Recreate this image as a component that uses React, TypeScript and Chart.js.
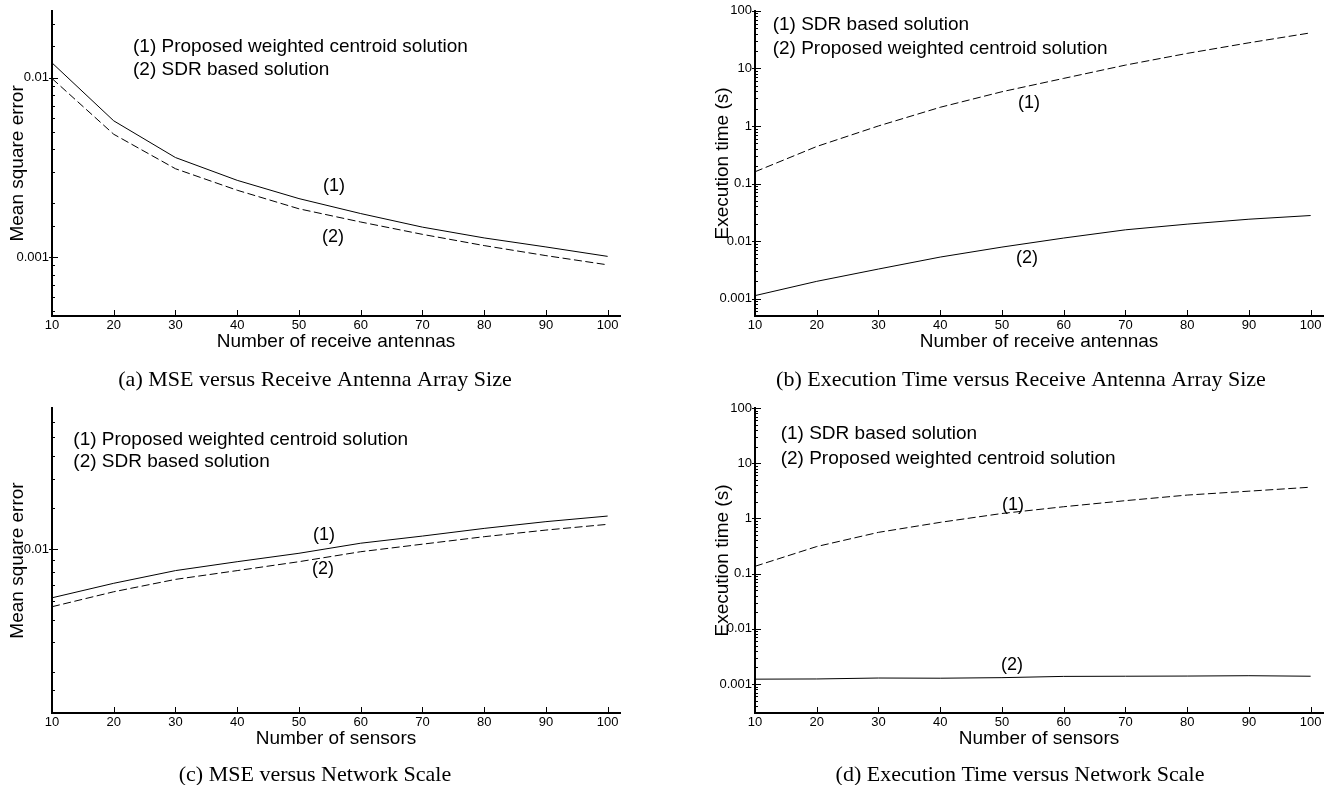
import React, { useEffect, useRef } from "react";
import { Chart, registerables } from "chart.js";

Chart.register(...registerables);

// ---------------- data ----------------
const receiveAntennas = [10, 20, 30, 40, 50, 60, 70, 80, 90, 100];
const sensorCounts = [10, 20, 30, 40, 50, 60, 70, 80, 90, 100];
const xTickValues = [10, 20, 30, 40, 50, 60, 70, 80, 90, 100];

// (a) MSE vs receive antennas
const mseAntennasProposed = [0.0121, 0.00575, 0.00359, 0.00268, 0.00212, 0.00175, 0.00147, 0.00128, 0.00114, 0.00101];
const mseAntennasSDR = [0.0099, 0.00484, 0.00311, 0.00236, 0.00186, 0.00157, 0.00134, 0.00116, 0.00102, 0.000906];

// (b) execution time vs receive antennas
const timeAntennasSDR = [0.16, 0.44, 1.0, 2.11, 3.93, 6.7, 11.4, 18.2, 27.8, 41.4];
const timeAntennasProposed = [0.00113, 0.002, 0.00327, 0.00528, 0.00787, 0.0113, 0.0157, 0.0197, 0.024, 0.0278];

// (c) MSE vs sensors
const mseSensorsProposed = [0.0062, 0.00715, 0.0081, 0.00884, 0.0096, 0.0106, 0.01137, 0.01226, 0.0131, 0.01384];
const mseSensorsSDR = [0.00568, 0.00658, 0.00743, 0.0081, 0.00884, 0.00975, 0.0105, 0.0113, 0.01206, 0.01276];

// (d) execution time vs sensors
const timeSensorsSDR = [0.136, 0.31, 0.56, 0.85, 1.23, 1.63, 2.1, 2.65, 3.12, 3.68];
const timeSensorsProposed = [0.00123, 0.00124, 0.00129, 0.00128, 0.00131, 0.00138, 0.00139, 0.0014, 0.00142, 0.00139];

// tick values
const mseAntennasMajorTicks = [0.001, 0.01];
const mseAntennasMinorTicks = [0.0005, 0.0006, 0.0007, 0.0008, 0.0009, 0.0015, 0.002, 0.003, 0.004, 0.005, 0.006, 0.007, 0.008, 0.009, 0.015, 0.02];
const mseSensorsMajorTicks = [0.01];
const mseSensorsMinorTicks = [0.0025, 0.003, 0.004, 0.005, 0.006, 0.007, 0.008, 0.009, 0.015, 0.02, 0.025, 0.03, 0.035];
const timeMajorTicks = [0.001, 0.01, 0.1, 1, 10, 100];
const timeDecades = [0.0001, 0.001, 0.01, 0.1, 1, 10];
const minorMultipliers = [2, 3, 4, 5, 6, 7, 8, 9];
const timeMinorTicks = timeDecades.flatMap((d) => minorMultipliers.map((k) => k * d));

// ---------------- layout ----------------
const SANS = '"Liberation Sans", Arial, sans-serif';
const SERIF = '"Liberation Serif", "Times New Roman", serif';

interface Note { text: string; x: number; y: number }
interface PanelSpec {
  id: string;
  left: number; top: number; width: number; height: number;
  area: { left: number; top: number; right: number; bottom: number };
  xValues: number[];
  series: { values: number[]; dashed: boolean }[];
  yMin: number; yMax: number;
  yMajor: number[]; yMinor: number[];
  xTitle: string; yTitle: string; yTitleX: number;
  legend: string[]; legendX: number; legendY: number[];
  notes: Note[];
  caption: string; captionX: number; captionY: number;
}

const panels: PanelSpec[] = [
  {
    id: "a", left: 0, top: 0, width: 660, height: 392,
    area: { left: 52, top: 10, right: 620, bottom: 316 },
    xValues: receiveAntennas,
    series: [
      { values: mseAntennasProposed, dashed: false },
      { values: mseAntennasSDR, dashed: true },
    ],
    yMin: 0.00047, yMax: 0.0236,
    yMajor: mseAntennasMajorTicks, yMinor: mseAntennasMinorTicks,
    xTitle: "Number of receive antennas", yTitle: "Mean square error", yTitleX: 18,
    legend: ["(1) Proposed weighted centroid solution", "(2) SDR based solution"],
    legendX: 133, legendY: [46.7, 70],
    notes: [{ text: "(1)", x: 334, y: 186 }, { text: "(2)", x: 333, y: 237 }],
    caption: "(a) MSE versus Receive Antenna Array Size", captionX: 315, captionY: 386,
  },
  {
    id: "b", left: 660, top: 0, width: 673, height: 392,
    area: { left: 95, top: 10, right: 663, bottom: 316 },
    xValues: receiveAntennas,
    series: [
      { values: timeAntennasSDR, dashed: true },
      { values: timeAntennasProposed, dashed: false },
    ],
    yMin: 0.0005, yMax: 100,
    yMajor: timeMajorTicks, yMinor: timeMinorTicks,
    xTitle: "Number of receive antennas", yTitle: "Execution time (s)", yTitleX: 722.5,
    legend: ["(1) SDR based solution", "(2) Proposed weighted centroid solution"],
    legendX: 772.7, legendY: [25, 48.3],
    notes: [{ text: "(1)", x: 1029, y: 103 }, { text: "(2)", x: 1027, y: 258 }],
    caption: "(b) Execution Time versus Receive Antenna Array Size", captionX: 1021, captionY: 386,
  },
  {
    id: "c", left: 0, top: 392, width: 660, height: 393,
    area: { left: 52, top: 16, right: 620, bottom: 321 },
    xValues: sensorCounts,
    series: [
      { values: mseSensorsProposed, dashed: false },
      { values: mseSensorsSDR, dashed: true },
    ],
    yMin: 0.002, yMax: 0.04,
    yMajor: mseSensorsMajorTicks, yMinor: mseSensorsMinorTicks,
    xTitle: "Number of sensors", yTitle: "Mean square error", yTitleX: 18,
    legend: ["(1) Proposed weighted centroid solution", "(2) SDR based solution"],
    legendX: 73.3, legendY: [440, 461.7],
    notes: [{ text: "(1)", x: 324, y: 535 }, { text: "(2)", x: 323, y: 569 }],
    caption: "(c) MSE versus Network Scale", captionX: 315, captionY: 781,
  },
  {
    id: "d", left: 660, top: 392, width: 673, height: 393,
    area: { left: 95, top: 16, right: 663, bottom: 321 },
    xValues: sensorCounts,
    series: [
      { values: timeSensorsSDR, dashed: true },
      { values: timeSensorsProposed, dashed: false },
    ],
    yMin: 0.0003, yMax: 100,
    yMajor: timeMajorTicks, yMinor: timeMinorTicks,
    xTitle: "Number of sensors", yTitle: "Execution time (s)", yTitleX: 722.5,
    legend: ["(1) SDR based solution", "(2) Proposed weighted centroid solution"],
    legendX: 780.7, legendY: [434, 459],
    notes: [{ text: "(1)", x: 1013, y: 505 }, { text: "(2)", x: 1012, y: 665 }],
    caption: "(d) Execution Time versus Network Scale", captionX: 1020, captionY: 781,
  },
];

const TITLE_SIZE = 19;
const TITLE_LH = TITLE_SIZE * 1.2;
const X_TITLE_OFFSET = 25.3; // centre of x title below the axis

function makeDecor(spec: PanelSpec) {
  return {
    id: "decor-" + spec.id,
    afterDraw(chart: any) {
      const { ctx, chartArea: a, scales } = chart;
      const xs = scales.x;
      const ys = scales.y;
      ctx.save();
      ctx.strokeStyle = "#000";
      ctx.lineWidth = 1;
      ctx.beginPath();
      xTickValues.forEach((v) => {
        const px = Math.round(xs.getPixelForValue(v)) + 0.5;
        ctx.moveTo(px, a.bottom);
        ctx.lineTo(px, a.bottom - 6);
      });
      spec.yMajor.forEach((v) => {
        const py = Math.round(ys.getPixelForValue(v)) + 0.5;
        ctx.moveTo(a.left - 3, py);
        ctx.lineTo(a.left + 6, py);
      });
      spec.yMinor
        .filter((v) => v > spec.yMin * 1.0001 && v < spec.yMax * 0.9999)
        .forEach((v) => {
          const py = Math.round(ys.getPixelForValue(v)) + 0.5;
          ctx.moveTo(a.left, py);
          ctx.lineTo(a.left + 3, py);
        });
      ctx.stroke();

      ctx.fillStyle = "#000";
      ctx.font = `19px ${SANS}`;
      ctx.textAlign = "left";
      ctx.textBaseline = "middle";
      spec.legend.forEach((t, i) => {
        ctx.fillText(t, spec.legendX - spec.left, spec.legendY[i] - spec.top);
      });

      ctx.font = `18px ${SANS}`;
      ctx.textAlign = "center";
      spec.notes.forEach((n) => {
        ctx.fillText(n.text, n.x - spec.left, n.y - spec.top);
      });

      ctx.font = `22px ${SERIF}`;
      ctx.textBaseline = "alphabetic";
      ctx.fillText(spec.caption, spec.captionX - spec.left, spec.captionY - spec.top);
      ctx.restore();
    },
  };
}

function Panel({ spec }: { spec: PanelSpec }) {
  const ref = useRef<HTMLCanvasElement | null>(null);
  useEffect(() => {
    if (!ref.current) return;
    const { area, width, height } = spec;
    const chart = new Chart(ref.current, {
      type: "line",
      data: {
        datasets: spec.series.map((s, i) => ({
          label: "s" + i,
          data: spec.xValues.map((x, j) => ({ x, y: s.values[j] })),
          borderColor: "#000",
          backgroundColor: "#000",
          borderWidth: 1,
          borderDash: s.dashed ? [8, 3.5] : [],
          pointRadius: 0,
          tension: 0,
          fill: false,
        })),
      },
      options: {
        responsive: false,
        animation: false,
        events: [],
        layout: { padding: { left: 0, top: area.top, right: width - area.right, bottom: 0 } },
        plugins: { legend: { display: false }, tooltip: { enabled: false } },
        scales: {
          x: {
            type: "linear",
            min: 10,
            max: 102,
            afterBuildTicks: (s: any) => {
              s.ticks = xTickValues.map((v) => ({ value: v }));
            },
            afterFit: (s: any) => {
              s.height = height - area.bottom;
            },
            grid: { display: false, drawTicks: false },
            border: { display: true, color: "#000", width: 2 },
            ticks: {
              autoSkip: false,
              maxRotation: 0,
              color: "#000",
              padding: 2,
              font: { family: SANS, size: 13 },
              callback: (v: any) => String(v),
            },
            title: {
              display: true,
              text: spec.xTitle,
              color: "#000",
              font: { family: SANS, size: TITLE_SIZE },
              padding: { top: 0, bottom: height - area.bottom - X_TITLE_OFFSET - TITLE_LH / 2 },
            },
          },
          y: {
            type: "logarithmic",
            min: spec.yMin,
            max: spec.yMax,
            afterBuildTicks: (s: any) => {
              s.ticks = spec.yMajor.map((v) => ({ value: v }));
            },
            afterFit: (s: any) => {
              s.width = area.left;
            },
            grid: { display: false, drawTicks: false },
            border: { display: true, color: "#000", width: 2 },
            ticks: {
              autoSkip: false,
              color: "#000",
              padding: 3,
              font: { family: SANS, size: 13 },
              callback: (v: any) => String(v),
            },
            title: {
              display: true,
              text: spec.yTitle,
              color: "#000",
              font: { family: SANS, size: TITLE_SIZE },
              padding: { top: spec.yTitleX - spec.left - TITLE_LH / 2, bottom: 0 },
            },
          },
        },
      },
      plugins: [makeDecor(spec)],
    } as any);
    return () => chart.destroy();
  }, [spec]);
  return (
    <canvas
      ref={ref}
      width={spec.width}
      height={spec.height}
      style={{ position: "absolute", left: spec.left, top: spec.top, width: spec.width, height: spec.height }}
    />
  );
}

export default function App() {
  return (
    <div
      style={{
        position: "fixed",
        left: 0,
        top: 0,
        width: 1333,
        height: 785,
        background: "#fff",
        overflow: "hidden",
      }}
    >
      {panels.map((p) => (
        <Panel key={p.id} spec={p} />
      ))}
    </div>
  );
}
